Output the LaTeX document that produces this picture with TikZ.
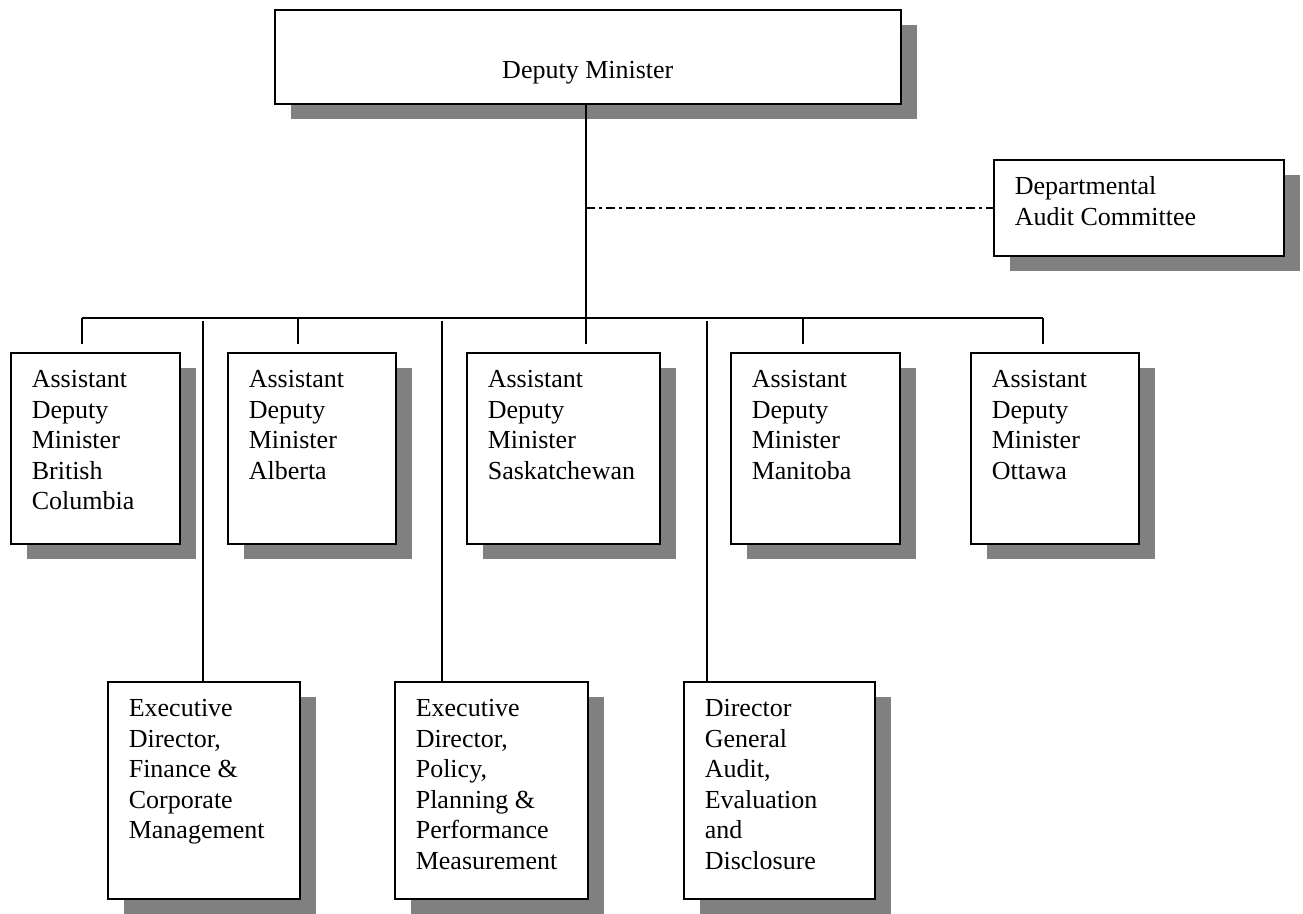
\documentclass[tikz,border=0pt]{standalone}
\usepackage{fontspec}
\setmainfont{Liberation Serif}
\usetikzlibrary{positioning,shadows}

\tikzset{
    post/.style={draw, line width=1.6pt, fill=white, anchor=north west,
        inner xsep=21pt, inner ysep=0pt, font=\fontsize{26}{30.5}\selectfont,
        drop shadow={shadow xshift=16pt, shadow yshift=-15pt, opacity=1, fill=black!50}},
    link/.style={line width=1.6pt},
    auditline/.style={line width=1.6pt, dash pattern=on 9pt off 4pt on 3pt off 4pt}
}
\newcommand{\posttext}[3]{\parbox[t][#1][t]{#2}{\raggedright\rule{0pt}{35pt}#3}}

\begin{document}
\begin{tikzpicture}[x=1pt,y=-1pt]
    \useasboundingbox (0,0) rectangle (1303,913);

    \node[post] at (274,9)(dm) {\parbox[t][94pt][t]{584pt}{\centering\rule{0pt}{69pt}Deputy Minister}};
    \node[post] at (993,159)(dac) {\posttext{96pt}{248pt}{Departmental\\Audit Committee}};

    \node[post] at (10,352)(adma) {\posttext{191pt}{127pt}{Assistant\\Deputy\\Minister\\British\\Columbia}};
    \node[post] at (227,352)(admb) {\posttext{191pt}{126pt}{Assistant\\Deputy\\Minister\\Alberta}};
    \node[post] at (466,352)(admc) {\posttext{191pt}{151pt}{Assistant\\Deputy\\Minister\\Saskatchewan}};
    \node[post] at (730,352)(admd) {\posttext{191pt}{127pt}{Assistant\\Deputy\\Minister\\Manitoba}};
    \node[post] at (970,352)(adme) {\posttext{191pt}{126pt}{Assistant\\Deputy\\Minister\\Ottawa}};

    \node[post] at (107,681)(exa) {\posttext{217pt}{150pt}{Executive\\Director,\\Finance \&\\Corporate\\Management}};
    \node[post] at (394,681)(exb) {\posttext{217pt}{151pt}{Executive\\Director,\\Policy,\\Planning \&\\Performance\\Measurement}};
    \node[post] at (683,681)(dgc) {\posttext{217pt}{149pt}{Director\\General\\Audit,\\Evaluation\\and\\Disclosure}};

    % branch points on the bar
    \coordinate (bar1) at (82,318);
    \coordinate (bar2) at (298,318);
    \coordinate (bar3) at (586,318);
    \coordinate (bar4) at (803,318);
    \coordinate (bar5) at (1043,318);
    \coordinate (dropa) at (203,318);
    \coordinate (dropb) at (442,318);
    \coordinate (dropc) at (707,318);

    \draw[link] (bar1) -- (bar5);
    \draw[link, shorten >=8pt] (dm.south -| bar3) -- (bar3 |- admc.north);
    \foreach \n/\b in {bar1/adma, bar2/admb, bar4/admd, bar5/adme}
        \draw[link, shorten >=8pt] (\n) -- (\n |- \b.north);
    \foreach \n/\b in {dropa/exa, dropb/exb, dropc/dgc}
        \draw[link, shorten <=3pt] (\n) -- (\n |- \b.north);

    \draw[auditline] (dac.west -| bar3) -- (dac.west);
\end{tikzpicture}
\end{document}
